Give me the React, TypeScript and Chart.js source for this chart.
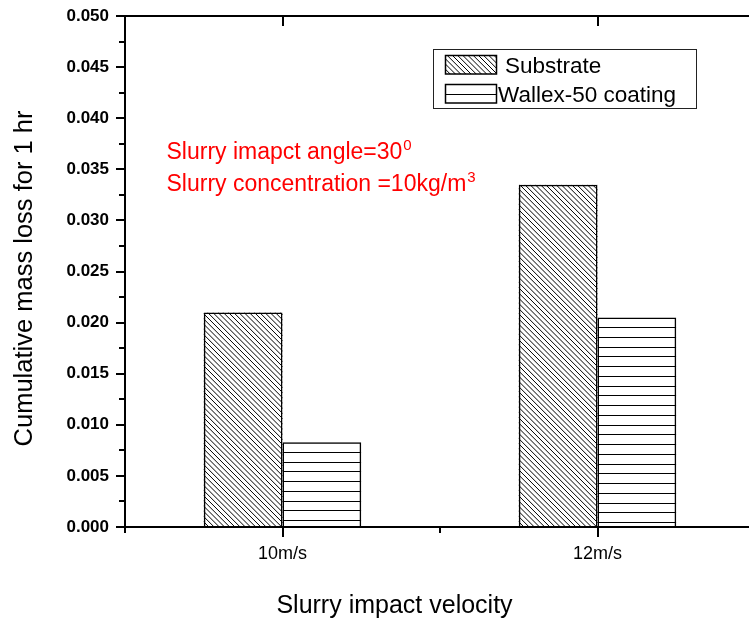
import React, { useEffect, useRef } from 'react';
import { Chart, registerables } from 'chart.js';

Chart.register(...registerables);

// ---- data ----
const categories = ['10m/s', '12m/s'];
const seriesLabels = ['Substrate', 'Wallex-50 coating'];
const substrateValues = [0.021, 0.0335];
const wallexValues = [0.0083, 0.0205];
const yMin = 0;
const yMax = 0.05;
const yStep = 0.005;
const yMinorStep = 0.0025;
const annotationMain = ['Slurry imapct angle=30', 'Slurry concentration =10kg/m'];
const annotationSup = ['0', '3'];
const xTitle = 'Slurry impact velocity';
const yTitle = 'Cumulative mass loss for 1 hr';

const FONT = '"Liberation Sans", Arial, Helvetica, sans-serif';

function hatchDiag(ctx: CanvasRenderingContext2D, l: number, t: number, r: number, b: number) {
  ctx.save();
  ctx.beginPath();
  ctx.rect(l, t, r - l, b - t);
  ctx.clip();
  ctx.strokeStyle = '#000';
  ctx.lineWidth = 1;
  ctx.beginPath();
  const h = b - t;
  const step = 5.2;
  for (let x0 = l - h - step; x0 < r + step; x0 += step) {
    ctx.moveTo(x0, t);
    ctx.lineTo(x0 + h, b);
  }
  ctx.stroke();
  ctx.restore();
}

function hatchHoriz(ctx: CanvasRenderingContext2D, l: number, t: number, r: number, b: number) {
  ctx.save();
  ctx.beginPath();
  ctx.rect(l, t, r - l, b - t);
  ctx.clip();
  ctx.strokeStyle = '#000';
  ctx.lineWidth = 1;
  ctx.beginPath();
  const step = 9.75;
  for (let y = t + step; y < b - 1; y += step) {
    const yy = Math.round(y) + 0.5;
    ctx.moveTo(l, yy);
    ctx.lineTo(r, yy);
  }
  ctx.stroke();
  ctx.restore();
}

const hatchers = [hatchDiag, hatchHoriz];

const hatchPlugin = {
  id: 'hatchBars',
  beforeDatasetsDraw(chart: any) {
    const ctx = chart.ctx;
    chart.data.datasets.forEach((_: any, i: number) => {
      const meta = chart.getDatasetMeta(i);
      meta.data.forEach((bar: any) => {
        const p = bar.getProps(['x', 'y', 'base', 'width'], true);
        const l = p.x - p.width / 2;
        const r = p.x + p.width / 2;
        const t = Math.min(p.y, p.base);
        const b = Math.max(p.y, p.base);
        hatchers[i](ctx, l, t, r, b);
      });
    });
  },
};

const decorPlugin = {
  id: 'decor',
  afterDraw(chart: any) {
    const ctx: CanvasRenderingContext2D = chart.ctx;
    const ca = chart.chartArea;
    const ys = chart.scales.y;
    const xs = chart.scales.x;
    ctx.save();
    ctx.strokeStyle = '#000';
    ctx.lineWidth = 2;
    ctx.lineCap = 'butt';
    ctx.beginPath();
    // top border
    ctx.moveTo(ca.left - 1, ca.top);
    ctx.lineTo(ca.right + 1, ca.top);
    // y ticks (major + minor)
    const nMinor = Math.round((yMax - yMin) / yMinorStep);
    for (let k = 0; k <= nMinor; k++) {
      const v = yMin + k * yMinorStep;
      const py = Math.round(ys.getPixelForValue(v));
      const len = k % 2 === 0 ? 9 : 6;
      ctx.moveTo(ca.left, py);
      ctx.lineTo(ca.left - len, py);
    }
    // x ticks at category centres (major) and boundaries (minor)
    const centers = categories.map((_, i) => xs.getPixelForValue(i));
    const half = centers.length > 1 ? (centers[1] - centers[0]) / 2 : (ca.right - ca.left) / 2;
    centers.forEach((cx) => {
      const px = Math.round(cx);
      ctx.moveTo(px, ca.bottom);
      ctx.lineTo(px, ca.bottom + 10);
      ctx.moveTo(px, ca.top);
      ctx.lineTo(px, ca.top + 10);
    });
    for (let i = 0; i <= centers.length; i++) {
      const px = Math.round(centers[0] - half + i * 2 * half);
      ctx.moveTo(px, ca.bottom);
      ctx.lineTo(px, ca.bottom + 6);
    }
    ctx.stroke();

    // axis titles
    ctx.fillStyle = '#000';
    ctx.font = `25px ${FONT}`;
    ctx.textAlign = 'center';
    ctx.textBaseline = 'alphabetic';
    ctx.fillText(xTitle, 394.5, 613);
    ctx.save();
    ctx.translate(31.5, 278.5);
    ctx.rotate(-Math.PI / 2);
    ctx.font = `25.5px ${FONT}`;
    ctx.fillText(yTitle, 0, 0);
    ctx.restore();

    // red annotation
    ctx.fillStyle = '#ff0000';
    ctx.textAlign = 'left';
    const baselines = [159, 191];
    annotationMain.forEach((txt, i) => {
      ctx.font = `23px ${FONT}`;
      ctx.fillText(txt, 166.5, baselines[i]);
      const w = ctx.measureText(txt).width;
      ctx.font = `15px ${FONT}`;
      ctx.fillText(annotationSup[i], 166.5 + w + 1, baselines[i] - 9);
    });

    // legend
    ctx.strokeStyle = '#222';
    ctx.lineWidth = 1;
    ctx.strokeRect(433.5, 49.5, 263, 59);
    const swatchTops = [55, 84];
    const textX = [505, 498];
    const textBase = [72.5, 101.5];
    seriesLabels.forEach((lab, i) => {
      const t = swatchTops[i];
      hatchers[i](ctx, 445, t, 497, t + 19);
      ctx.strokeStyle = '#000';
      ctx.lineWidth = 1.5;
      ctx.strokeRect(445.5, t + 0.5, 51, 18.5);
      ctx.fillStyle = '#000';
      ctx.font = `22.5px ${FONT}`;
      ctx.fillText(lab, textX[i], textBase[i]);
    });
    ctx.restore();
  },
};

export default function App() {
  const canvasRef = useRef<HTMLCanvasElement | null>(null);

  useEffect(() => {
    const canvas = canvasRef.current;
    if (!canvas) return;
    const chart = new Chart(canvas, {
      type: 'bar',
      data: {
        labels: categories,
        datasets: [
          {
            label: seriesLabels[0],
            data: substrateValues,
            backgroundColor: 'rgba(255,255,255,0)',
            borderColor: '#000',
            borderWidth: 1.5,
            categoryPercentage: 0.5,
            barPercentage: 1.0,
          },
          {
            label: seriesLabels[1],
            data: wallexValues,
            backgroundColor: 'rgba(255,255,255,0)',
            borderColor: '#000',
            borderWidth: 1.5,
            categoryPercentage: 0.5,
            barPercentage: 1.0,
          },
        ],
      },
      options: {
        responsive: false,
        animation: false,
        devicePixelRatio: 1,
        layout: { padding: { left: 0, top: 16, right: 5, bottom: 0 } },
        plugins: {
          legend: { display: false },
          tooltip: { enabled: false },
        },
        scales: {
          x: {
            offset: true,
            grid: { display: false, drawTicks: false },
            border: { display: true, color: '#000', width: 2 },
            ticks: {
              color: '#000',
              font: { family: FONT, size: 18 },
              padding: 16,
              maxRotation: 0,
            },
            afterFit: (scale: any) => {
              scale.height = 98;
              scale.paddingLeft = 0;
              scale.paddingRight = 0;
            },
          },
          y: {
            min: yMin,
            max: yMax,
            grid: { display: false, drawTicks: false },
            border: { display: true, color: '#000', width: 2 },
            ticks: {
              stepSize: yStep,
              color: '#000',
              font: { family: FONT, size: 17, weight: 'bold' },
              padding: 16,
              callback: (v: any) => Number(v).toFixed(3),
            },
            afterFit: (scale: any) => {
              scale.width = 125;
              scale.paddingTop = 0;
              scale.paddingBottom = 0;
            },
          },
        },
      },
      plugins: [hatchPlugin, decorPlugin],
    } as any);
    return () => chart.destroy();
  }, []);

  return (
    <div
      style={{
        position: 'absolute',
        left: 0,
        top: 0,
        width: 749,
        height: 625,
        overflow: 'hidden',
        background: '#fff',
      }}
    >
      <canvas ref={canvasRef} width={760} height={625} style={{ display: 'block' }} />
    </div>
  );
}
